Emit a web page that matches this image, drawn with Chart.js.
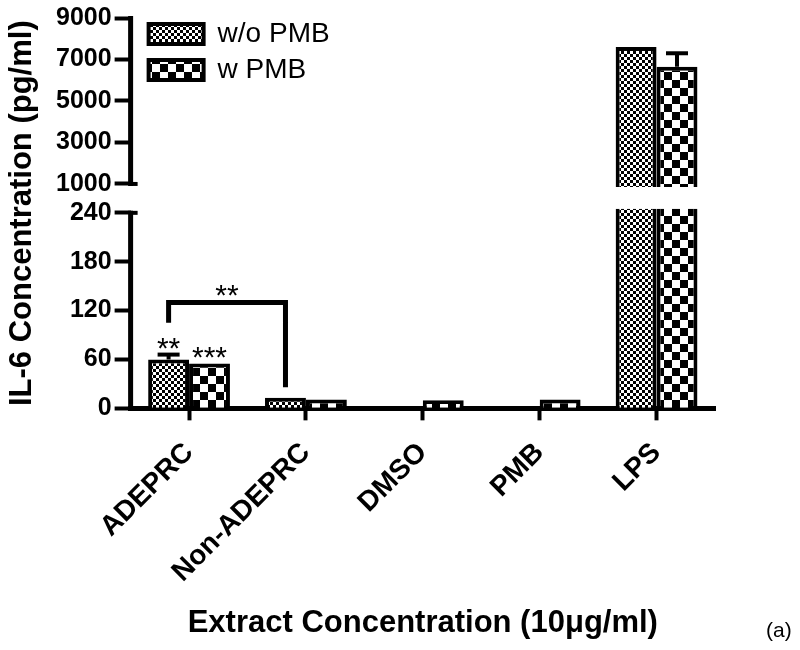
<!DOCTYPE html>
<html><head><meta charset="utf-8">
<script src="https://cdn.jsdelivr.net/npm/chart.js@4.4.1/dist/chart.umd.min.js"></script>
<style>
html,body{margin:0;padding:0;background:#fff;}
#wrap{position:relative;width:800px;height:650px;}
#tag{position:absolute;left:766px;top:618px;font:21px "Liberation Sans",Arial,sans-serif;color:#000;}
</style>
</head><body>
<div id="wrap"><canvas id="c" width="800" height="650"></canvas><div id="tag">(a)</div></div>
<script>
// ---- data ----
const categories = ['ADEPRC', 'Non-ADEPRC', 'DMSO', 'PMB', 'LPS'];
const seriesNames = ['w/o PMB', 'w PMB'];
const withoutPMB = [60, 13, 0, 0, 7600];
const withPMB = [55, 11, 10, 11, 6650];
const withoutPMBErr = [6, 0, 0, 0, 0];
const withPMBErr = [0, 0, 0, 0, 650];
const lowTicks = [0, 60, 120, 180, 240];
const highTicks = [1000, 3000, 5000, 7000, 9000];
const barStars = [{series: 0, index: 0, text: '**'}, {series: 1, index: 0, text: '***'}];
const bracket = {from: 0, to: 1, series: 0, y: 130, leftEnd: 105, rightEnd: 26, text: '**'};

// ---- axis break configuration ----
const LOW_MAX = 250, LOW_CAP = 245, HIGH_MIN = 0, HIGH_MAX = 9000, HIGH_BASE = 850;
const FONT = '"Liberation Sans", Arial, Helvetica, sans-serif';

function makePattern(cell) {
  const c = document.createElement('canvas');
  c.width = c.height = cell * 2;
  const g = c.getContext('2d');
  g.fillStyle = '#fff'; g.fillRect(0, 0, cell * 2, cell * 2);
  g.fillStyle = '#000';
  g.fillRect(0, 0, cell, cell); g.fillRect(cell, cell, cell, cell);
  return g.createPattern(c, 'repeat');
}
const fine = makePattern(3);
const coarse = makePattern(8);

const seriesValues = [withoutPMB, withPMB];
const seriesErr = [withoutPMBErr, withPMBErr];
const fills = [fine, coarse];
const stacks = ['wo', 'w'];

const datasets = [];
seriesValues.forEach((vals, s) => {
  datasets.push({
    label: seriesNames[s], stack: stacks[s], yAxisID: 'yLow',
    data: vals.map(v => Math.min(v, LOW_CAP)),
    backgroundColor: fills[s], borderColor: '#000',
    borderWidth: ctx => (vals[ctx.dataIndex] > LOW_CAP ? {left: 4, right: 4, top: 0, bottom: 0} : 4)
  });
});
seriesValues.forEach((vals, s) => {
  datasets.push({
    label: seriesNames[s] + ' (high)', stack: stacks[s], yAxisID: 'yHigh',
    data: vals.map(v => (v > LOW_CAP ? v : null)),
    base: HIGH_BASE,
    backgroundColor: fills[s], borderColor: '#000', borderWidth: 4
  });
});

function pick(chart, s, i) {
  const v = seriesValues[s][i];
  const dsIndex = v > LOW_CAP ? s + 2 : s;
  const meta = chart.getDatasetMeta(dsIndex);
  const scale = v > LOW_CAP ? chart.scales.yHigh : chart.scales.yLow;
  return {bar: meta.data[i], scale, v};
}

const overlay = {
  id: 'overlay',
  afterLayout(chart) {
    if (chart.legend) { chart.legend.left += 10; chart.legend.top += 12; }
  },
  afterDatasetsDraw(chart) {
    const ctx = chart.ctx;
    ctx.save();
    ctx.strokeStyle = '#000'; ctx.fillStyle = '#000';
    // error bars
    seriesValues.forEach((vals, s) => {
      vals.forEach((v, i) => {
        const e = seriesErr[s][i];
        if (!e) return;
        const {bar, scale} = pick(chart, s, i);
        const yT = scale.getPixelForValue(v + e);
        ctx.lineWidth = 4;
        ctx.beginPath(); ctx.moveTo(bar.x, bar.y); ctx.lineTo(bar.x, yT); ctx.stroke();
        ctx.beginPath(); ctx.moveTo(bar.x - 11, yT); ctx.lineTo(bar.x + 11, yT); ctx.stroke();
      });
    });
    // stars
    ctx.font = '30px ' + FONT; ctx.textAlign = 'center'; ctx.textBaseline = 'alphabetic';
    barStars.forEach(st => {
      const {bar, scale, v} = pick(chart, st.series, st.index);
      const top = scale.getPixelForValue(v + seriesErr[st.series][st.index]);
      ctx.fillText(st.text, bar.x, top + 3);
    });
    // bracket
    const lo = chart.scales.yLow;
    const b1 = pick(chart, bracket.series, bracket.from).bar;
    const b2 = pick(chart, bracket.series, bracket.to).bar;
    const yb = lo.getPixelForValue(bracket.y);
    ctx.lineWidth = 5; ctx.lineJoin = 'miter';
    ctx.beginPath();
    ctx.moveTo(b1.x, lo.getPixelForValue(bracket.leftEnd));
    ctx.lineTo(b1.x, yb); ctx.lineTo(b2.x, yb);
    ctx.lineTo(b2.x, lo.getPixelForValue(bracket.rightEnd));
    ctx.stroke();
    ctx.fillText(bracket.text, (b1.x + b2.x) / 2, yb + 3);
    ctx.restore();
  },
  afterDraw(chart) {
    const ctx = chart.ctx, lo = chart.scales.yLow, hi = chart.scales.yHigh;
    const x = lo.right;
    ctx.save();
    ctx.strokeStyle = '#000'; ctx.lineWidth = 5;
    const hT = hi.getPixelForValue(highTicks[highTicks.length - 1]);
    const hB = hi.getPixelForValue(highTicks[0]);
    const lT = lo.getPixelForValue(lowTicks[lowTicks.length - 1]);
    const lB = lo.getPixelForValue(lowTicks[0]);
    ctx.beginPath(); ctx.moveTo(x, hT - 2); ctx.lineTo(x, hB + 2); ctx.stroke();
    ctx.beginPath(); ctx.moveTo(x, lT - 2); ctx.lineTo(x, lB); ctx.stroke();
    ctx.lineWidth = 4;
    ctx.beginPath(); ctx.moveTo(x, hB); ctx.lineTo(x + 7, hB); ctx.stroke();
    ctx.beginPath(); ctx.moveTo(x, lT); ctx.lineTo(x + 7, lT); ctx.stroke();
    // y title
    ctx.fillStyle = '#000';
    ctx.font = 'bold 31px ' + FONT;
    ctx.textAlign = 'center'; ctx.textBaseline = 'middle';
    ctx.translate(22, (chart.chartArea.top + chart.chartArea.bottom) / 2);
    ctx.rotate(-Math.PI / 2);
    ctx.fillText('IL-6 Concentration (pg/ml)', 0, 0);
    ctx.restore();
  }
};

const yCommon = {
  type: 'linear', position: 'left', stack: 'y',
  ticks: {font: {family: FONT, size: 25, weight: 'bold'}, color: '#000', padding: 3, callback: v => String(v)},
  grid: {drawOnChartArea: false, tickLength: 16, tickWidth: 4, tickColor: '#000'},
  border: {display: false}
};

new Chart(document.getElementById('c'), {
  type: 'bar',
  data: {labels: categories, datasets},
  options: {
    responsive: false, animation: false,
    layout: {padding: {left: 53, right: 85, top: 0, bottom: 8}},
    datasets: {bar: {categoryPercentage: 0.7, barPercentage: 1.0}},
    scales: {
      x: {
        grid: {offset: false, drawOnChartArea: false, tickLength: 12, tickWidth: 4, tickColor: '#000'},
        border: {display: true, color: '#000', width: 5},
        ticks: {font: {family: FONT, size: 28, weight: 'bold'}, color: '#000', maxRotation: 45, minRotation: 45, autoSkip: false, padding: 16},
        title: {display: true, text: 'Extract Concentration (10\u03bcg/ml)', font: {family: FONT, size: 31, weight: 'bold'}, color: '#000', padding: {top: 0, bottom: 0}}
      },
      yLow: Object.assign({}, yCommon, {
        stackWeight: 204, min: 0, max: LOW_MAX,
        afterBuildTicks: s => { s.ticks = lowTicks.map(v => ({value: v})); }
      }),
      yHigh: Object.assign({}, yCommon, {
        stackWeight: 187, min: HIGH_MIN, max: HIGH_MAX,
        afterBuildTicks: s => { s.ticks = highTicks.map(v => ({value: v})); }
      })
    },
    plugins: {
      tooltip: {enabled: false},
      legend: {
        position: 'chartArea', align: 'start',
        labels: {
          boxWidth: 55, boxHeight: 20, padding: 8, color: '#000',
          font: {family: FONT, size: 28},
          filter: item => item.datasetIndex < 2
        }
      }
    }
  },
  plugins: [overlay]
});
</script>
</body></html>
